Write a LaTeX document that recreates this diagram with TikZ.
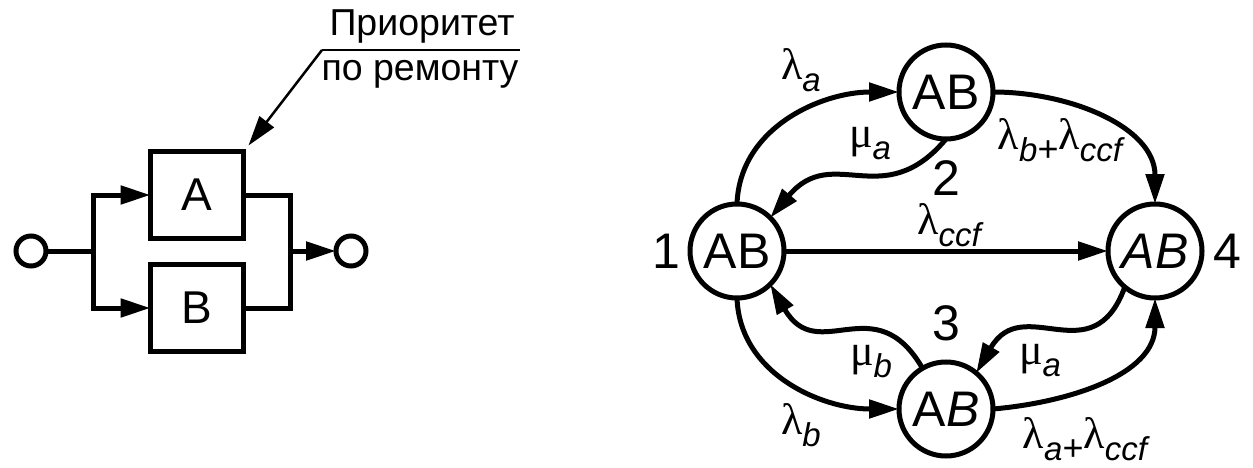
\documentclass[tikz,border=0pt]{standalone}
\usepackage{fontspec}
\setmainfont{Liberation Sans}
\newfontfamily\grkfont{Liberation Serif}
\usetikzlibrary{positioning, arrows.meta}

\newcommand{\rate}[2]{{\fontsize{44}{44}\selectfont\grkfont #1}\raisebox{-12pt}{\fontsize{33}{33}\selectfont\itshape #2}}
\newcommand{\plusrate}{\raisebox{-12pt}{\fontsize{36}{36}\selectfont +}}

\begin{document}
\begin{tikzpicture}[
x=1pt, y=1pt,
>={Triangle[length=30pt,width=18pt]},
state/.style={circle, draw=black, line width=5pt, minimum size=94pt, inner sep=0pt, outer sep=0pt, font=\fontsize{50}{50}\selectfont},
unit/.style={rectangle, draw=black, line width=5pt, minimum width=93pt, minimum height=87pt, inner sep=0pt, outer sep=0pt, font=\fontsize{46}{46}\selectfont},
pole/.style={circle, draw=black, line width=5pt, minimum size=30pt, inner sep=0pt, outer sep=0pt},
note/.style={font=\fontsize{37.5}{37.5}\selectfont, inner sep=0pt},
num/.style={font=\fontsize{50}{50}\selectfont, inner sep=0pt},
lbl/.style={inner sep=0pt},
flow/.style={line width=5pt},
]
\useasboundingbox (0,0) rectangle (1253,467);

% block diagram
\node[unit]      (a)      at (197,272)    {A};
\node[unit]      (b)      [below=26pt of a]  {B};
\node[pole]      (in)     at (31,216)     {};
\node[pole]      (out)    at (351,216)    {};
\coordinate      (fork)   at (93,216);
\coordinate      (join)   at (290,216);
\coordinate      (head)   at (322,417);
\coordinate      (tail)   at (520,417);
\coordinate[xshift=5pt,yshift=6pt] (tip) at (a.north east);

\node[note]      (prio)   [xshift=100pt,yshift=24pt] at (head) {Приоритет};
\node[note]      (rem)    [xshift=98pt,yshift=-24pt] at (head) {по ремонту};

\draw[flow] (in) -- (fork);
\draw[flow,->] (fork) |- (a);
\draw[flow,->] (fork) |- (b);
\draw[flow] (a) -| (join);
\draw[flow] (b) -| (join);
\draw[flow,->] (join) -- (out);

\draw[line width=2.5pt] (tail) -- (head);
\draw[line width=2.5pt,->] (head) -- (tip);

% state graph
\node[state]     (ab1)    at (737,216)    {AB};
\node[state]     (ab2)    at (946,375)    {AB};
\node[state]     (ab3)    at (946,58)     {A\textit{B}};
\node[state]     (ab4)    [right=324pt of ab1] {\textit{AB}};

\node[num]       (n1)     [left=10pt of ab1]    {1};
\node[num]       (n2)     [yshift=-86pt] at (ab2) {2};
\node[num]       (n3)     [yshift=86pt] at (ab3)  {3};
\node[num]       (n4)     [right=11pt of ab4]    {4};

\draw[flow,->] (ab1) -- (ab4);
\draw[flow,->] (ab1.north) to[out=88,in=180] (ab2.west);
\draw[flow,->] (ab2.east) to[out=0,in=90] (ab4.north);
\draw[flow,->] (ab1.south) to[out=-88,in=180] (ab3.west);
\draw[flow,->] (ab3.east) to[out=5,in=-90] (ab4.south);
\draw[flow,->] (ab2.south) to[out=230,in=50,looseness=1.3] (ab1.45);
\draw[flow,->] (ab3.120) to[out=120,in=-60,looseness=1.4] (ab1.-45);
\draw[flow,->] (ab4.-130) to[out=-110,in=60,looseness=1.4] (ab3.50);

\node[lbl] (la)  [xshift=-145pt,yshift=22pt] at (ab2) {\rate{λ}{a}};
\node[lbl] (ma)  [xshift=-76pt,yshift=-52pt] at (ab2) {\rate{μ}{a}};
\node[lbl] (lbc) [xshift=114pt,yshift=-48pt] at (ab2) {\rate{λ}{b}\plusrate\rate{λ}{ccf}};
\node[lbl] (lc)  [xshift=212pt,yshift=26pt] at (ab1) {\rate{λ}{ccf}};
\node[lbl] (mb)  [xshift=-75pt,yshift=47pt] at (ab3) {\rate{μ}{b}};
\node[lbl] (ma2) [xshift=94pt,yshift=48pt] at (ab3) {\rate{μ}{a}};
\node[lbl] (lb)  [xshift=-145pt,yshift=-16pt] at (ab3) {\rate{λ}{b}};
\node[lbl] (lac) [xshift=139pt,yshift=-30pt] at (ab3) {\rate{λ}{a}\plusrate\rate{λ}{ccf}};

\end{tikzpicture}
\end{document}
